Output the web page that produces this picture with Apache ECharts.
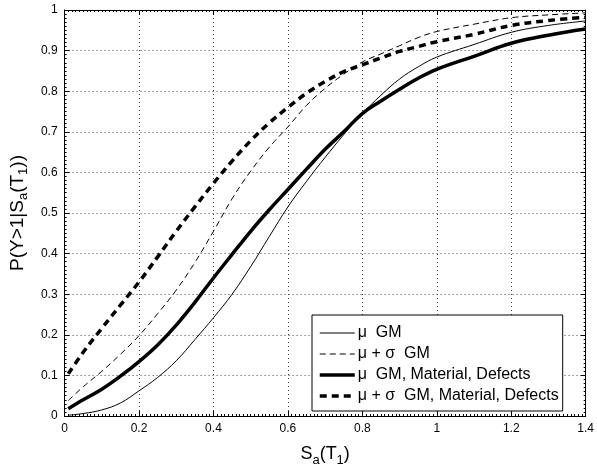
<!DOCTYPE html>
<html>
<head>
<meta charset="utf-8">
<script src="https://cdn.jsdelivr.net/npm/echarts@6/dist/echarts.min.js"></script>
<style>
  html, body { margin: 0; padding: 0; background: #fff; }
  #chart { width: 597px; height: 472px; }
</style>
</head>
<body>
<div id="chart"></div>
<script>
// Spectral acceleration Sa(T1) sample points
const sa = [0.01, 0.05, 0.1, 0.15, 0.2, 0.25, 0.3, 0.35, 0.4, 0.45, 0.5, 0.55, 0.6,
            0.65, 0.7, 0.75, 0.8, 0.85, 0.9, 0.95, 1.0, 1.1, 1.2, 1.3, 1.4];

// Fragility curves P(Y>1 | Sa(T1))
const muGM = [0.002, 0.006, 0.015, 0.032, 0.062, 0.095, 0.136, 0.188, 0.242, 0.300, 0.368, 0.442, 0.515,
              0.578, 0.637, 0.693, 0.745, 0.790, 0.830, 0.860, 0.884, 0.915, 0.945, 0.962, 0.973];
const muSigGM = [0.038, 0.072, 0.110, 0.152, 0.198, 0.252, 0.310, 0.378, 0.455, 0.535, 0.603, 0.662, 0.712,
                 0.765, 0.807, 0.842, 0.872, 0.892, 0.912, 0.932, 0.947, 0.965, 0.981, 0.988, 0.993];
const muAll = [0.018, 0.040, 0.066, 0.098, 0.134, 0.175, 0.224, 0.280, 0.340, 0.398, 0.455, 0.508, 0.558,
               0.608, 0.657, 0.700, 0.745, 0.776, 0.805, 0.832, 0.854, 0.886, 0.918, 0.938, 0.953];
const muSigAll = [0.104, 0.157, 0.216, 0.273, 0.330, 0.392, 0.455, 0.515, 0.573, 0.628, 0.678, 0.722, 0.760,
                  0.795, 0.824, 0.848, 0.865, 0.882, 0.898, 0.910, 0.922, 0.940, 0.962, 0.974, 0.982];

const seriesNames = ['μ  GM', 'μ + σ  GM', 'μ  GM, Material, Defects', 'μ + σ  GM, Material, Defects'];

// line width and dash pattern of each curve
const lineWidths = [1, 1, 3.5, 3.5];
const lineDashes = ['solid', [6, 4], 'solid', [7, 5]];

const pairs = ys => sa.map((x, i) => [x, ys[i]]);
const FONT = 'Liberation Sans, Arial, Helvetica, sans-serif';

function makeLine(i, ys) {
  return {
    name: seriesNames[i],
    type: 'line',
    data: pairs(ys),
    smooth: 0.4,
    symbol: 'none',
    xAxisIndex: 0,
    yAxisIndex: 0,
    lineStyle: { color: '#000', width: lineWidths[i], type: lineDashes[i], cap: 'butt' },
    itemStyle: { color: '#000' },
    emphasis: { disabled: true },
    animation: false
  };
}

const gridStyle = { show: true, lineStyle: { color: '#444', width: 1, type: [1, 3] } };

function mainAxis(pos, min, max, interval, minorSplit, showLabels) {
  return {
    type: 'value',
    position: pos,
    min: min,
    max: max,
    interval: interval,
    axisLine: { show: true, onZero: false, lineStyle: { color: '#000', width: 1 } },
    axisTick: { show: true, inside: true, length: 5, lineStyle: { color: '#000' } },
    minorTick: { show: true, splitNumber: minorSplit, length: 2, lineStyle: { color: '#000' } },
    axisLabel: { show: showLabels, color: '#000', fontSize: 12, fontFamily: FONT, margin: 7 },
    splitLine: showLabels ? gridStyle : { show: false },
    minorSplitLine: { show: false }
  };
}

const chart = echarts.init(document.getElementById('chart'), null, { renderer: 'canvas' });

const xMain = mainAxis('bottom', 0, 1.4, 0.2, 20, true);
xMain.name = '{m|S}{s|a}{m|(T}{s|1}{m|)}';
xMain.nameLocation = 'middle';
xMain.nameGap = 26;
xMain.nameTextStyle = {
  color: '#000', fontFamily: FONT,
  rich: {
    m: { fontSize: 18, fontFamily: FONT, color: '#000' },
    s: { fontSize: 13, fontFamily: FONT, color: '#000', padding: [12, 0, 0, 0] }
  }
};

const yMain = mainAxis('left', 0, 1, 0.1, 10, true);
yMain.name = '{m|P(Y>1|S}{s|a}{m|(T}{s|1}{m|))}';
yMain.nameLocation = 'middle';
yMain.nameGap = 34;
yMain.nameRotate = 90;
yMain.nameTextStyle = {
  color: '#000', fontFamily: FONT,
  rich: {
    m: { fontSize: 19, fontFamily: FONT, color: '#000' },
    s: { fontSize: 13, fontFamily: FONT, color: '#000', padding: [12, 0, 0, 0] }
  }
};

chart.setOption({
  backgroundColor: '#fff',
  animation: false,
  grid: { left: 62, right: 7, top: 10, bottom: 46, containLabel: false },
  xAxis: [xMain, mainAxis('top', 0, 1.4, 0.2, 20, false)],
  yAxis: [yMain, mainAxis('right', 0, 1, 0.1, 10, false)],
  legend: {
    orient: 'vertical',
    left: 312,
    top: 315,
    backgroundColor: '#fff',
    borderColor: '#000',
    borderWidth: 1,
    borderRadius: 0,
    padding: [10, 4, 7, 6],
    itemGap: 5,
    itemWidth: 35,
    itemHeight: 16,
    selectedMode: false,
    itemStyle: { opacity: 0, color: 'rgba(0,0,0,0)', borderWidth: 0 },
    textStyle: { color: '#000', fontSize: 16, fontFamily: FONT, padding: [0, 0, 0, -2] },
    data: seriesNames.map((n, i) => ({
      name: n,
      lineStyle: { width: lineWidths[i], type: lineDashes[i], color: '#000', cap: 'butt' }
    }))
  },
  series: [
    makeLine(0, muGM),
    makeLine(1, muSigGM),
    makeLine(2, muAll),
    makeLine(3, muSigAll)
  ]
});
</script>
</body>
</html>
